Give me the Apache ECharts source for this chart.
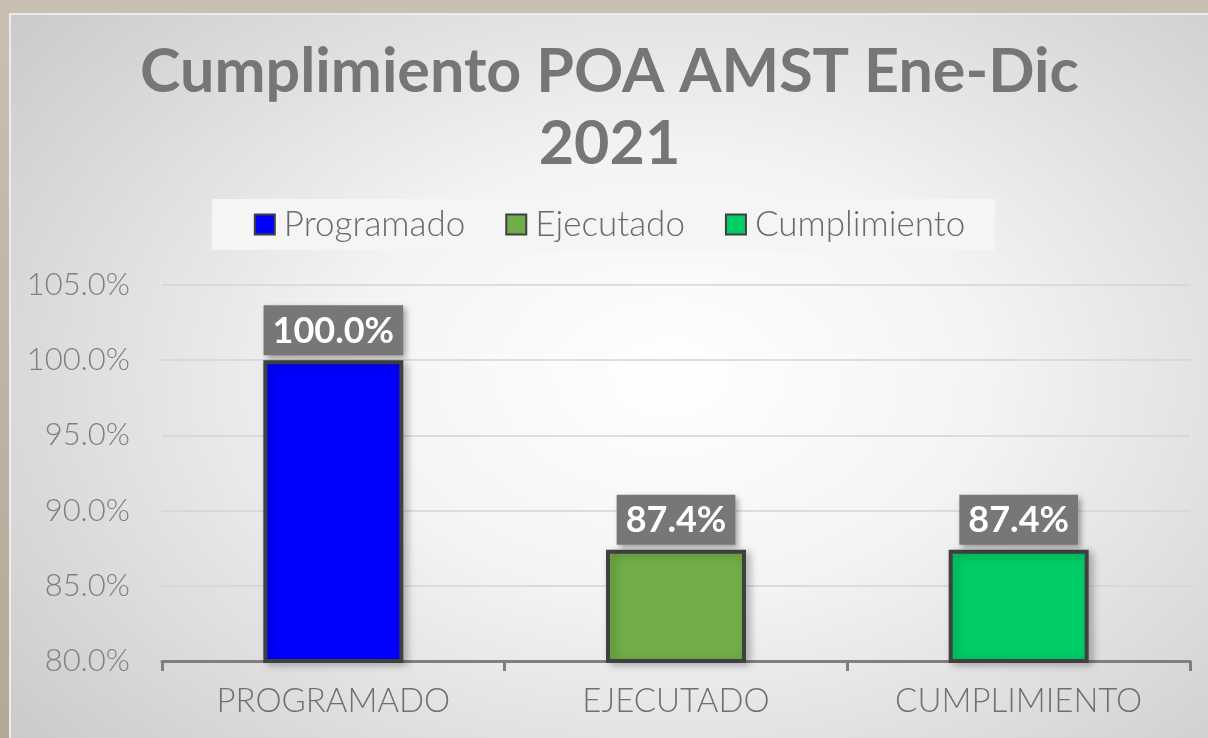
<!DOCTYPE html>
<html>
<head>
<meta charset="utf-8">
<script src="https://cdn.jsdelivr.net/npm/echarts@6/dist/echarts.min.js"></script>
<style>
  html, body { margin: 0; padding: 0; width: 1208px; height: 738px; overflow: hidden;
    background: linear-gradient(#c9c0b2, #b3a999); }
  #frame { position: absolute; left: 9px; top: 13px; width: 1199px; height: 725px;
    border-top: 2px solid #ececec; border-left: 2px solid #ececec; box-sizing: border-box;
    background: radial-gradient(ellipse 75% 85% at 55% 50%, #ffffff 0%, #f4f4f4 35%, #c6c6c6 100%); }
  #chart { width: 100%; height: 100%; }
</style>
</head>
<body>
<div id="frame"><div id="chart"></div></div>
<script>
const categories = ['PROGRAMADO', 'EJECUTADO', 'CUMPLIMIENTO'];
const seriesNames = ['Programado', 'Ejecutado', 'Cumplimiento'];
const values = [100.0, 87.4, 87.4];
const colors = ['#0000ff', '#70ad47', '#00cc66'];
const yMin = 80, yMax = 105, yStep = 5;

const chart = echarts.init(document.getElementById('chart'), null, { renderer: 'canvas' });

const series = seriesNames.map((name, i) => ({
  name: name,
  type: 'bar',
  barWidth: 140,
  barGap: '-100%',
  data: categories.map((c, j) => (j === i ? values[j] : null)),
  itemStyle: {
    color: colors[i],
    borderColor: '#404040',
    borderWidth: 4,
    shadowBlur: 8,
    shadowColor: 'rgba(0,0,0,0.25)',
    shadowOffsetX: 4,
    shadowOffsetY: 2
  },
  label: {
    show: true,
    position: 'top',
    distance: 5,
    formatter: p => p.value.toFixed(1) + '%',
    color: '#ffffff',
    fontFamily: 'Lato',
    fontWeight: 'bold',
    fontSize: 36,
    backgroundColor: '#777777',
    padding: [8, 9, 6, 9],
    shadowBlur: 6,
    shadowColor: 'rgba(0,0,0,0.35)',
    shadowOffsetX: 3,
    shadowOffsetY: 3
  }
}));

chart.setOption({
  animation: false,
  backgroundColor: 'transparent',
  title: {
    text: 'Cumplimiento POA AMST Ene-Dic\n2021',
    left: 'center',
    top: 16,
    textStyle: {
      fontFamily: 'Lato',
      fontWeight: 'bold',
      fontSize: 61,
      lineHeight: 72,
      color: '#767676'
    }
  },
  legend: {
    top: 184,
    left: 'center',
    backgroundColor: '#f5f5f5',
    padding: [8, 30, 8, 42],
    itemWidth: 20,
    itemHeight: 20,
    itemGap: 40,
    icon: 'rect',
    textStyle: {
      fontFamily: 'Lato',
      fontWeight: 300,
      fontSize: 35,
      color: '#6a6a6a',
      padding: [0, 0, 0, 4]
    },
    data: seriesNames
  },
  grid: {
    left: 151,
    right: 18,
    top: 270,
    bottom: 77
  },
  xAxis: {
    type: 'category',
    data: categories,
    axisLine: { show: true, lineStyle: { color: '#7f7f7f', width: 3 } },
    axisTick: { show: true, length: 10, lineStyle: { color: '#7f7f7f', width: 3 } },
    axisLabel: {
      fontFamily: 'Lato',
      fontWeight: 300,
      fontSize: 33,
      color: '#707070',
      margin: 24
    }
  },
  yAxis: {
    type: 'value',
    min: yMin,
    max: yMax,
    interval: yStep,
    axisLine: { show: false },
    axisTick: { show: false },
    splitLine: { lineStyle: { color: '#d4d4d4', width: 1.5 } },
    axisLabel: {
      formatter: v => v.toFixed(1) + '%',
      fontFamily: 'Lato',
      fontWeight: 300,
      fontSize: 31,
      color: '#7f7f7f',
      margin: 32
    }
  },
  series: series
});
</script>
</body>
</html>
